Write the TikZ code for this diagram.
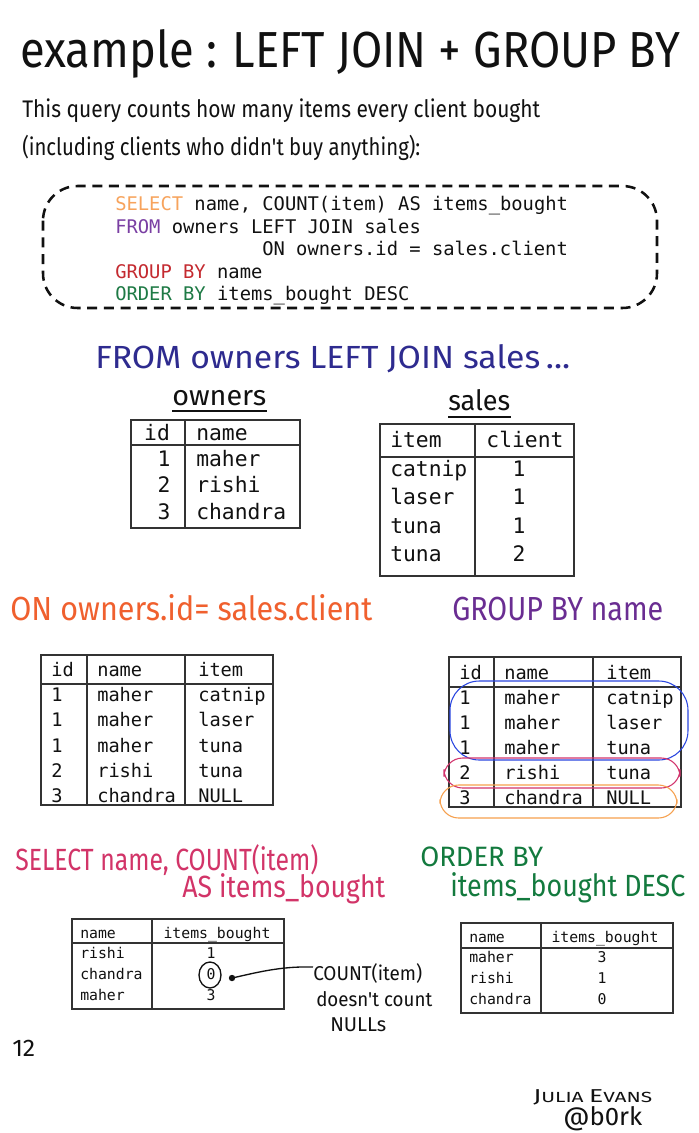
\documentclass[tikz,border=0pt]{standalone}
\usepackage{fontspec}
\usepackage{graphicx}
\setmainfont{Fira Sans}
\newfontfamily\handfont{Fira Sans}
\newfontfamily\monofont{DejaVu Sans Mono}
\usetikzlibrary{arrows.meta,shapes.geometric}
\newdimen\px \px=0.75pt
\newcommand{\fitw}[2]{\resizebox{#1\px}{\height}{#2}}
\newcommand{\hf}[1]{\handfont\fontsize{#1pt}{#1pt}\selectfont}
\newcommand{\mf}[1]{\monofont\fontsize{#1pt}{#1pt}\selectfont}
\definecolor{ink}{HTML}{111111}
\definecolor{cOrange}{HTML}{F7A35C}
\definecolor{cPurple}{HTML}{7A3FA3}
\definecolor{cRed}{HTML}{C42A30}
\definecolor{cGreen}{HTML}{1E7A45}
\definecolor{hNavy}{HTML}{2E2B8F}
\definecolor{hOrange}{HTML}{F0602E}
\definecolor{hPurple}{HTML}{6A2D92}
\definecolor{hCrimson}{HTML}{D23468}
\definecolor{hGreen}{HTML}{137A3E}
\definecolor{eBlue}{HTML}{2A46E0}
\definecolor{eRed}{HTML}{D2336C}
\definecolor{eOrange}{HTML}{F6A04E}
\definecolor{tline}{HTML}{333333}
\tikzset{
  txt/.style={anchor=base west, inner sep=0pt, text=ink},
  ctxt/.style={anchor=base, inner sep=0pt, text=ink},
  tbl/.style={draw=tline, line width=1.1pt},
  codebox/.style={draw=ink, dashed, line width=1.9pt, dash pattern=on 7.5pt off 5pt, rounded corners=26pt},
  grp/.style={line width=0.8pt, rounded corners=14pt},
}
\begin{document}
\begin{tikzpicture}[x=0.75pt,y=-0.75pt]
\fill[white] (0,0) rectangle (699,1133);
\useasboundingbox (0,0) rectangle (699,1133);

% title
\node[txt] (title) at (20,67) {\fitw{660}{\hf{38}example : LEFT JOIN + GROUP BY}};
\node[txt] (sub1) at (22,117) {\fitw{518}{\hf{18}This query counts how many items every client bought}};
\node[txt] (sub2) at (22,155) {\fitw{398}{\hf{18}(including clients who didn't buy anything):}};

% code box
\draw[codebox] (43,186) rectangle (657,308);
\node[txt] (code1) at (115,210) {\mf{14.1}\textcolor{cOrange}{SELECT} name, COUNT(item) AS items\_bought};
\node[txt] (code2) at (115,233) {\mf{14.1}\textcolor{cPurple}{FROM} owners LEFT JOIN sales};
\node[txt] (code3) at (262,255) {\mf{14.1}ON owners.id = sales.client};
\node[txt] (code4) at (115,278) {\mf{14.1}\textcolor{cRed}{GROUP BY} name};
\node[txt] (code5) at (115,300) {\mf{14.1}\textcolor{cGreen}{ORDER BY} items\_bought DESC};

% FROM heading
\node[txt, text=hNavy] (fromh) at (95,368) {\fitw{475}{\hf{24}FROM owners LEFT JOIN sales\,...}};

% owners
\node[txt] (ownh) at (172,405) {\fitw{94}{\hf{21}owners}};
\draw[ink, line width=1.3pt] (172,411) -- (267,411);
\draw[tbl] (131,420) rectangle (300,528);
\draw[tbl] (185,420) -- (185,528);
\draw[tbl] (131,445) -- (300,445);
\node[ctxt] (o-h1) at (157,440) {\mf{16}id};
\node[txt] (o-h2) at (196,440) {\mf{16}name};
\foreach \i/\n/\y in {1/maher/466, 2/rishi/492, 3/chandra/519}{
  \node[ctxt] (o-\i-1) at (164,\y) {\mf{16}\i};
  \node[txt] (o-\i-2) at (196,\y) {\mf{16}\n};
}

% sales
\node[txt] (salh) at (448,410) {\fitw{62}{\hf{21}sales}};
\draw[ink, line width=1.3pt] (448,417) -- (511,417);
\draw[tbl] (380,424) rectangle (574,576);
\draw[tbl] (475,424) -- (475,576);
\draw[tbl] (380,457) -- (574,457);
\node[txt] (s-h1) at (390,447) {\mf{16}item};
\node[ctxt] (s-h2) at (525,447) {\mf{16}client};
\foreach \i/\it/\c/\y in {1/catnip/1/476, 2/laser/1/504, 3/tuna/1/533, 4/tuna/2/561}{
  \node[txt] (s-\i-1) at (390,\y) {\mf{16}\it};
  \node[ctxt] (s-\i-2) at (519,\y) {\mf{16}\c};
}

% ON heading + table
\node[txt, text=hOrange] (onh) at (10,620) {\fitw{362}{\hf{25}ON owners.id= sales.client}};
\draw[tbl] (41,655) rectangle (273,805);
\draw[tbl] (87,655) -- (87,805);
\draw[tbl] (185,655) -- (185,805);
\draw[tbl] (41,684) -- (273,684);
\node[txt] (j-h1) at (51,676) {\mf{14}id};
\node[txt] (j-h2) at (97,676) {\mf{14}name};
\node[txt] (j-h3) at (198,676) {\mf{14}item};
\foreach \i/\a/\b/\c/\y in {1/1/maher/catnip/701, 2/1/maher/laser/726, 3/1/maher/tuna/752, 4/2/rishi/tuna/777, 5/3/chandra/NULL/802}{
  \node[txt] (j-\i-1) at (51,\y) {\mf{14}\a};
  \node[txt] (j-\i-2) at (97,\y) {\mf{14}\b};
  \node[txt] (j-\i-3) at (198,\y) {\mf{14}\c};
}

% GROUP heading + table
\node[txt, text=hPurple] (grh) at (452,620) {\fitw{211}{\hf{25}GROUP BY name}};
\draw[tbl] (449,657) rectangle (681,807);
\draw[tbl] (494,657) -- (494,807);
\draw[tbl] (593,657) -- (593,807);
\draw[tbl] (449,687) -- (681,687);
\node[txt] (g-h1) at (459,679) {\mf{14}id};
\node[txt] (g-h2) at (504,679) {\mf{14}name};
\node[txt] (g-h3) at (606,679) {\mf{14}item};
\foreach \i/\a/\b/\c/\y in {1/1/maher/catnip/704, 2/1/maher/laser/729, 3/1/maher/tuna/754, 4/2/rishi/tuna/779, 5/3/chandra/NULL/804}{
  \node[txt] (g-\i-1) at (459,\y) {\mf{14}\a};
  \node[txt] (g-\i-2) at (504,\y) {\mf{14}\b};
  \node[txt] (g-\i-3) at (606,\y) {\mf{14}\c};
}
\draw[grp, draw=eBlue, rounded corners=22pt] (450,681) rectangle (688,760);
\draw[grp, draw=eRed] (444,758) rectangle (680,788);
\draw[grp, draw=eOrange] (440,785) rectangle (677,818);

% SELECT heading + table
\node[txt, text=hCrimson] (selh1) at (15,870) {\fitw{303}{\hf{23}SELECT name, COUNT(item)}};
\node[txt, text=hCrimson] (selh2) at (182,897) {\fitw{203}{\hf{23}AS items\_bought}};
\draw[tbl] (72,919) rectangle (284,1009);
\draw[tbl] (152,919) -- (152,1009);
\draw[tbl] (72,943) -- (284,943);
\node[txt] (c-h1) at (80,938) {\mf{11.1}name};
\node[ctxt] (c-h2) at (217,938) {\mf{11.1}items\_bought};
\foreach \i/\n/\v/\y in {1/rishi/1/958, 2/chandra/0/979, 3/maher/3/1000}{
  \node[txt] (c-\i-1) at (80,\y) {\mf{11.1}\n};
  \node[ctxt] (c-\i-2) at (211,\y) {\mf{11.1}\v};
}
\node[draw=ink, line width=1pt, ellipse, minimum width=22\px, minimum height=26\px, inner sep=0pt] (zcirc) at (210,975) {};
\node[txt] (note1) at (313,980) {\fitw{109}{\hf{15}COUNT(item)}};
\node[txt] (note2) at (316,1006) {\fitw{116}{\hf{15}doesn't count}};
\node[txt] (note3) at (330,1031) {\fitw{56}{\hf{15}NULLs}};
\coordinate (dot) at (232,978);
\fill[ink] (dot) circle (2.4pt);
\draw[ink, line width=1pt] (note1.west) ++(0,-6) .. controls (280,966) and (255,973) .. (dot);

% ORDER heading + table
\node[txt, text=hGreen] (ordh1) at (420,866) {\fitw{123}{\hf{21}ORDER BY}};
\node[txt, text=hGreen] (ordh2) at (450,896) {\fitw{235}{\hf{23}items\_bought DESC}};
\draw[tbl] (461,923) rectangle (673,1013);
\draw[tbl] (541,923) -- (541,1013);
\draw[tbl] (461,948) -- (673,948);
\node[txt] (r-h1) at (469,942) {\mf{11.1}name};
\node[ctxt] (r-h2) at (605,942) {\mf{11.1}items\_bought};
\foreach \i/\n/\v/\y in {1/maher/3/962, 2/rishi/1/983, 3/chandra/0/1004}{
  \node[txt] (r-\i-1) at (469,\y) {\mf{11.1}\n};
  \node[ctxt] (r-\i-2) at (602,\y) {\mf{11.1}\v};
}

% page number and signature
\node[txt] (pnum) at (12,1056) {\fitw{23}{\hf{18}12}};
\node[txt] (sig1) at (533,1102) {\fitw{119}{\hf{14}J\fontsize{11pt}{11pt}\selectfont ULIA \fontsize{14pt}{14pt}\selectfont E\fontsize{11pt}{11pt}\selectfont VANS}};
\node[txt] (sig2) at (563,1125) {\fitw{79}{\hf{19}@b0rk}};
\end{tikzpicture}
\end{document}
